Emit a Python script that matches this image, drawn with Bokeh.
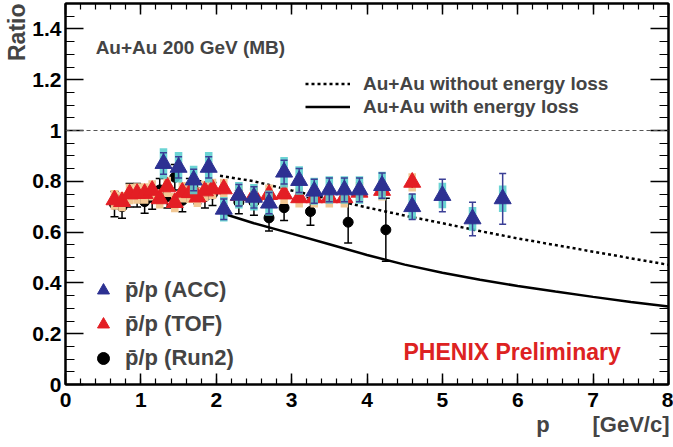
import numpy as np
from bokeh.plotting import figure
from bokeh.models import (ColumnDataSource, LinearAxis, SingleIntervalTicker, Span, Label, Title,
                          Legend, LegendItem, Range1d, CustomJSTickFormatter)
from bokeh.embed import file_html
from bokeh.resources import INLINE

# ---- anti-proton / proton ratio vs momentum, Au+Au 200 GeV minimum bias ----

# ACC identified pbar/p
acc_p = [1.3, 1.5, 1.7, 1.9, 2.1, 2.3, 2.5, 2.7, 2.9, 3.1, 3.3, 3.5, 3.7, 3.9, 4.2, 4.6, 5.0, 5.4, 5.8]
acc_r = [0.870, 0.855, 0.805, 0.855, 0.690, 0.745, 0.737, 0.714, 0.836, 0.803, 0.761, 0.766,
         0.766, 0.766, 0.783, 0.700, 0.744, 0.652, 0.731]
acc_stat = [0.042, 0.042, 0.042, 0.042, 0.040, 0.042, 0.042, 0.042, 0.047, 0.047, 0.047, 0.047,
            0.047, 0.047, 0.050, 0.050, 0.064, 0.066, 0.100]
acc_sys = [0.060, 0.060, 0.056, 0.060, 0.048, 0.052, 0.052, 0.050, 0.060, 0.056, 0.053, 0.054,
           0.054, 0.054, 0.055, 0.050, 0.050, 0.047, 0.052]

# TOF identified pbar/p
tof_p = [0.65, 0.75, 0.85, 0.95, 1.05, 1.15, 1.25, 1.35, 1.45, 1.55, 1.65, 1.75, 1.85, 1.95,
         2.1, 2.3, 2.5, 2.7, 2.9, 3.1, 3.3, 3.5, 3.7, 3.9, 4.2, 4.6]
tof_r = [0.727, 0.720, 0.750, 0.752, 0.752, 0.764, 0.731, 0.778, 0.716, 0.757, 0.755, 0.738,
         0.762, 0.770, 0.770, 0.744, 0.744, 0.748, 0.750, 0.735, 0.735, 0.735, 0.735, 0.757,
         0.764, 0.796]
tof_stat = [0.010, 0.010, 0.010, 0.010, 0.010, 0.010, 0.010, 0.010, 0.011, 0.011, 0.011, 0.012,
            0.012, 0.012, 0.012, 0.013, 0.013, 0.014, 0.014, 0.015, 0.015, 0.016, 0.017, 0.018,
            0.020, 0.022]
tof_sys = [0.039, 0.038, 0.040, 0.040, 0.040, 0.040, 0.038, 0.040, 0.038, 0.040, 0.040, 0.039,
           0.040, 0.040, 0.040, 0.039, 0.039, 0.039, 0.039, 0.038, 0.038, 0.038, 0.038, 0.040,
           0.040, 0.036]

# Run-2 pbar/p
run2_p = [0.65, 0.75, 0.85, 0.95, 1.05, 1.15, 1.25, 1.35, 1.45, 1.55, 1.65, 1.75, 1.85, 1.95,
          2.3, 2.5, 2.7, 2.9, 3.25, 3.75, 4.25]
run2_r = [0.710, 0.700, 0.745, 0.745, 0.720, 0.735, 0.766, 0.740, 0.816, 0.725, 0.766, 0.757,
          0.740, 0.750, 0.718, 0.718, 0.656, 0.696, 0.681, 0.639, 0.609]
run2_err = [0.050, 0.045, 0.046, 0.046, 0.046, 0.045, 0.045, 0.045, 0.050, 0.045, 0.045, 0.045,
            0.045, 0.045, 0.046, 0.052, 0.052, 0.050, 0.054, 0.082, 0.124]

# model curves
noloss_p = [2.05, 2.5, 3.0, 3.5, 4.0, 4.5, 5.0, 5.5, 6.0, 6.5, 7.0, 7.5, 8.0]
noloss_r = [0.822, 0.800, 0.764, 0.731, 0.697, 0.665, 0.635, 0.604, 0.575, 0.549, 0.523, 0.497, 0.471]
loss_p = [2.1, 2.5, 3.0, 3.5, 4.0, 4.5, 5.0, 5.5, 6.0, 6.5, 7.0, 7.5, 8.0]
loss_r = [0.672, 0.635, 0.594, 0.552, 0.510, 0.472, 0.440, 0.412, 0.388, 0.366, 0.345, 0.325, 0.307]

FONT = "Liberation Sans"
BOX_HALF = 0.05
NBSP = "\u00a0"

p = figure(width=673, height=447, x_range=Range1d(0, 8), y_range=Range1d(0, 1.5),
           output_backend="svg", toolbar_location=None,
           min_border_left=65, min_border_right=5, min_border_top=3, min_border_bottom=63)
p.xgrid.visible = False
p.ygrid.visible = False
p.outline_line_color = "black"
p.outline_line_width = 2
p.background_fill_color = "white"
p.border_fill_color = "white"


def style_axis(ax, tick_in, minor_in, show_labels=True):
    ax.major_tick_in = tick_in
    ax.major_tick_out = 0
    ax.minor_tick_in = minor_in
    ax.minor_tick_out = 0
    ax.major_tick_line_width = 1.5
    ax.minor_tick_line_width = 1.2
    ax.major_tick_line_color = "black"
    ax.minor_tick_line_color = "black"
    ax.axis_line_width = 2
    ax.axis_line_color = "black"
    if show_labels:
        ax.major_label_text_font = FONT
        ax.major_label_text_font_style = "bold"
        ax.major_label_text_font_size = "21px"
        ax.major_label_text_color = "black"
    else:
        ax.major_label_text_font_size = "0px"
        ax.major_label_standoff = 0


fmt = CustomJSTickFormatter(code="return tick.toFixed(1).replace(/\\.0$/, '');")

xa = p.xaxis[0]
xa.ticker = SingleIntervalTicker(interval=1, num_minor_ticks=5)
xa.formatter = fmt
style_axis(xa, 11, 6)
xa.major_label_standoff = 8

ya = p.yaxis[0]
ya.ticker = SingleIntervalTicker(interval=0.2, num_minor_ticks=4)
ya.formatter = fmt
style_axis(ya, 18, 9)
ya.major_label_standoff = 4

top_ax = LinearAxis(ticker=SingleIntervalTicker(interval=1, num_minor_ticks=5))
style_axis(top_ax, 11, 6, show_labels=False)
p.add_layout(top_ax, "above")

right_ax = LinearAxis(ticker=SingleIntervalTicker(interval=0.2, num_minor_ticks=4))
style_axis(right_ax, 18, 9, show_labels=False)
p.add_layout(right_ax, "right")

# axis titles, flush with the far end of each axis
p.add_layout(Title(text="Ratio", align="right", text_font=FONT, text_font_style="bold",
                   text_font_size="23px", standoff=0, offset=0), "left")
p.add_layout(Title(text="p" + NBSP * 7 + "[GeV/c]", align="right", text_font=FONT,
                   text_font_style="bold", text_font_size="22px", standoff=0, offset=-1),
             "below")

# reference line at ratio = 1
p.add_layout(Span(location=1, dimension="width", line_color="#555555",
                  line_dash="4 3", line_width=1))

# model curves
r_noloss = p.line(noloss_p, noloss_r, line_color="black", line_width=2.5, line_dash="3 3")
r_loss = p.line(loss_p, loss_r, line_color="black", line_width=2.5)


def err_source(xs, ys, stat, sys):
    xs = np.array(xs); ys = np.array(ys); st = np.array(stat)
    d = dict(x=xs, y=ys, lo=ys - st, hi=ys + st)
    if sys is not None:
        sy = np.array(sys)
        d.update(left=xs - BOX_HALF, right=xs + BOX_HALF, bottom=ys - sy, top=ys + sy)
    return ColumnDataSource(d)


# Run-2 points
s_run2 = err_source(run2_p, run2_r, run2_err, None)
p.segment(x0="x", y0="lo", x1="x", y1="hi", source=s_run2, line_color="black", line_width=1.5)
p.scatter(x="x", y="lo", source=s_run2, marker="dash", size=8, line_color="black", line_width=1.5)
p.scatter(x="x", y="hi", source=s_run2, marker="dash", size=8, line_color="black", line_width=1.5)
r_run2 = p.scatter(x="x", y="y", source=s_run2, marker="circle", size=10,
                   fill_color="black", line_color="black")

# TOF points
s_tof = err_source(tof_p, tof_r, tof_stat, tof_sys)
p.quad(left="left", right="right", bottom="bottom", top="top", source=s_tof,
       fill_color="#f2c894", line_color=None)
p.segment(x0="x", y0="lo", x1="x", y1="hi", source=s_tof, line_color="#e31e24", line_width=1.5)
r_tof = p.scatter(x="x", y="y", source=s_tof, marker="triangle", size=17,
                  fill_color="#e31e24", line_color="#e31e24")

# ACC points
s_acc = err_source(acc_p, acc_r, acc_stat, acc_sys)
p.quad(left="left", right="right", bottom="bottom", top="top", source=s_acc,
       fill_color="#5ccfcf", line_color=None, fill_alpha=0.9)
p.segment(x0="x", y0="lo", x1="x", y1="hi", source=s_acc, line_color="#3b3f96", line_width=1.5)
p.scatter(x="x", y="lo", source=s_acc, marker="dash", size=7, line_color="#3b3f96", line_width=1.5)
p.scatter(x="x", y="hi", source=s_acc, marker="dash", size=7, line_color="#3b3f96", line_width=1.5)
r_acc = p.scatter(x="x", y="y", source=s_acc, marker="triangle", size=17,
                  fill_color="#2d3192", line_color="#2d3192")

# legends
curve_legend = Legend(
    items=[LegendItem(label="Au+Au without energy loss", renderers=[r_noloss]),
           LegendItem(label="Au+Au with energy loss", renderers=[r_loss])],
    location=(240, 266), glyph_width=45, glyph_height=23, label_standoff=13, spacing=0,
    padding=0, margin=0, border_line_alpha=0, background_fill_alpha=0,
    label_text_font=FONT, label_text_font_style="bold", label_text_font_size="19px")
p.add_layout(curve_legend)

marker_legend = Legend(
    items=[LegendItem(label="p\u0304/p (ACC)", renderers=[r_acc]),
           LegendItem(label="p\u0304/p (TOF)", renderers=[r_tof]),
           LegendItem(label="p\u0304/p (Run2)", renderers=[r_run2])],
    location=(23, 11), glyph_width=30, glyph_height=30, label_standoff=7, spacing=4,
    padding=0, margin=0, border_line_alpha=0, background_fill_alpha=0,
    label_text_font=FONT, label_text_font_style="bold", label_text_font_size="22px")
p.add_layout(marker_legend)

# texts inside the frame
p.add_layout(Label(x=0.40, y=1.327, text="Au+Au 200 GeV (MB)", text_font=FONT,
                   text_font_style="bold", text_font_size="19px", text_baseline="middle"))
p.add_layout(Label(x=4.484, y=0.126, text="PHENIX Preliminary", text_font=FONT,
                   text_font_style="bold", text_font_size="23px", text_baseline="middle",
                   text_color="#dd2222"))

open("out.html", "w").write(file_html(p, INLINE))
